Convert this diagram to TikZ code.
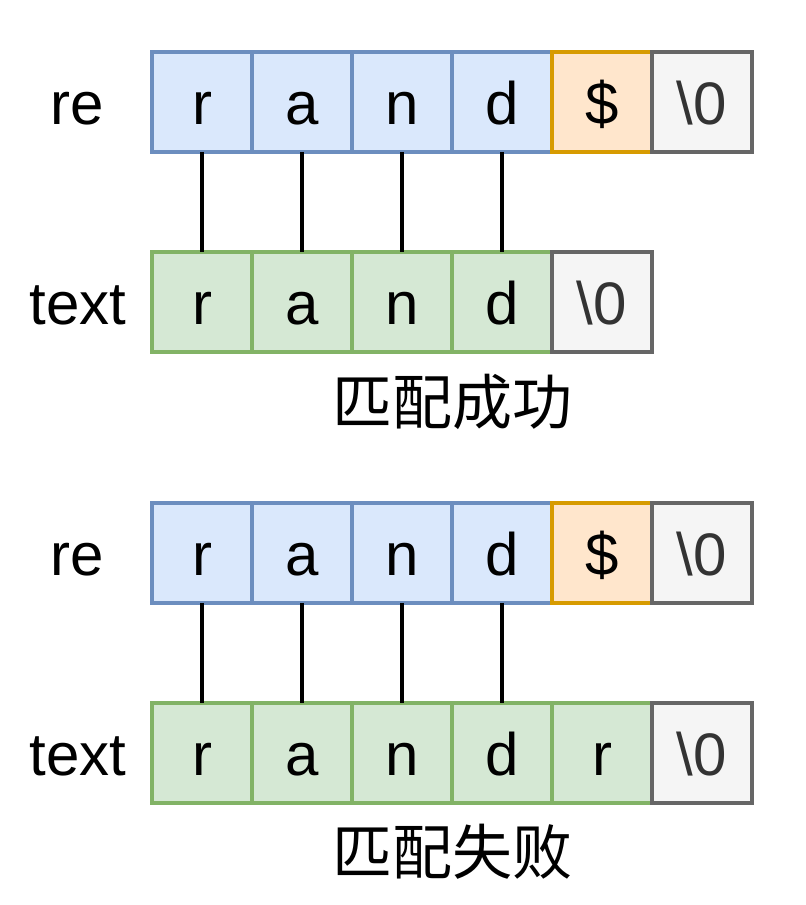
\documentclass[tikz,border=0pt]{standalone}
\usepackage{fontspec}
\setmainfont{Liberation Sans}
\newfontfamily\cjk{Noto Sans CJK SC}
\usetikzlibrary{positioning}
\definecolor{refill}{HTML}{DAE8FC}
\definecolor{reline}{HTML}{6C8EBF}
\definecolor{endfill}{HTML}{FFE6CC}
\definecolor{endline}{HTML}{D79B00}
\definecolor{nulfill}{HTML}{F5F5F5}
\definecolor{nulline}{HTML}{666666}
\definecolor{txtfill}{HTML}{D5E8D4}
\definecolor{txtline}{HTML}{82B366}
\begin{document}
\begin{tikzpicture}[x=0.5pt,y=0.5pt,node distance=0pt,
	cell/.style={rectangle,minimum width=50pt,minimum height=50pt,inner sep=0pt,outer sep=0pt,line width=2pt,font=\fontsize{30}{36}\selectfont,text height=23pt,text depth=0pt},
	recell/.style={cell,draw=reline,fill=refill},
	endcell/.style={cell,draw=endline,fill=endfill,text=black},
	nulcell/.style={cell,draw=nulline,fill=nulfill,text=black!80},
	txtcell/.style={cell,draw=txtline,fill=txtfill},
	rowname/.style={inner sep=0pt,font=\fontsize{30}{36}\selectfont,text height=23pt,text depth=0pt},
	verdict/.style={inner sep=0pt,font=\cjk\fontsize{30}{36}\selectfont,text height=21pt,text depth=1.4pt},
	link/.style={line width=2pt}]
	\useasboundingbox (0,0) rectangle (805,905);
	% success
	\node[rowname] (rename1) at (77,803) {re};
	\node[recell] (r1r) at (202,803) {r};
	\node[recell] (r1a) [right=of r1r] {a};
	\node[recell] (r1n) [right=of r1a] {n};
	\node[recell] (r1d) [right=of r1n] {d};
	\node[endcell] (r1s) [right=of r1d] {\$};
	\node[nulcell] (r1z) [right=of r1s] {\textbackslash 0};
	\node[rowname] (txtname1) at (78,603) {text};
	\node[txtcell] (t1r) at (202,603) {r};
	\node[txtcell] (t1a) [right=of t1r] {a};
	\node[txtcell] (t1n) [right=of t1a] {n};
	\node[txtcell] (t1d) [right=of t1n] {d};
	\node[nulcell] (t1z) [right=of t1d] {\textbackslash 0};
	\node[verdict] (ok) at (452,500) {匹配成功};
	\draw[link] (r1r.south) -- (t1r.north);
	\draw[link] (r1a.south) -- (t1a.north);
	\draw[link] (r1n.south) -- (t1n.north);
	\draw[link] (r1d.south) -- (t1d.north);
	% failure
	\node[rowname] (rename2) at (77,352) {re};
	\node[recell] (r2r) at (202,352) {r};
	\node[recell] (r2a) [right=of r2r] {a};
	\node[recell] (r2n) [right=of r2a] {n};
	\node[recell] (r2d) [right=of r2n] {d};
	\node[endcell] (r2s) [right=of r2d] {\$};
	\node[nulcell] (r2z) [right=of r2s] {\textbackslash 0};
	\node[rowname] (txtname2) at (78,152) {text};
	\node[txtcell] (t2r) at (202,152) {r};
	\node[txtcell] (t2a) [right=of t2r] {a};
	\node[txtcell] (t2n) [right=of t2a] {n};
	\node[txtcell] (t2d) [right=of t2n] {d};
	\node[txtcell] (t2x) [right=of t2d] {r};
	\node[nulcell] (t2z) [right=of t2x] {\textbackslash 0};
	\node[verdict] (fail) at (452,50) {匹配失败};
	\draw[link] (r2r.south) -- (t2r.north);
	\draw[link] (r2a.south) -- (t2a.north);
	\draw[link] (r2n.south) -- (t2n.north);
	\draw[link] (r2d.south) -- (t2d.north);
\end{tikzpicture}
\end{document}
